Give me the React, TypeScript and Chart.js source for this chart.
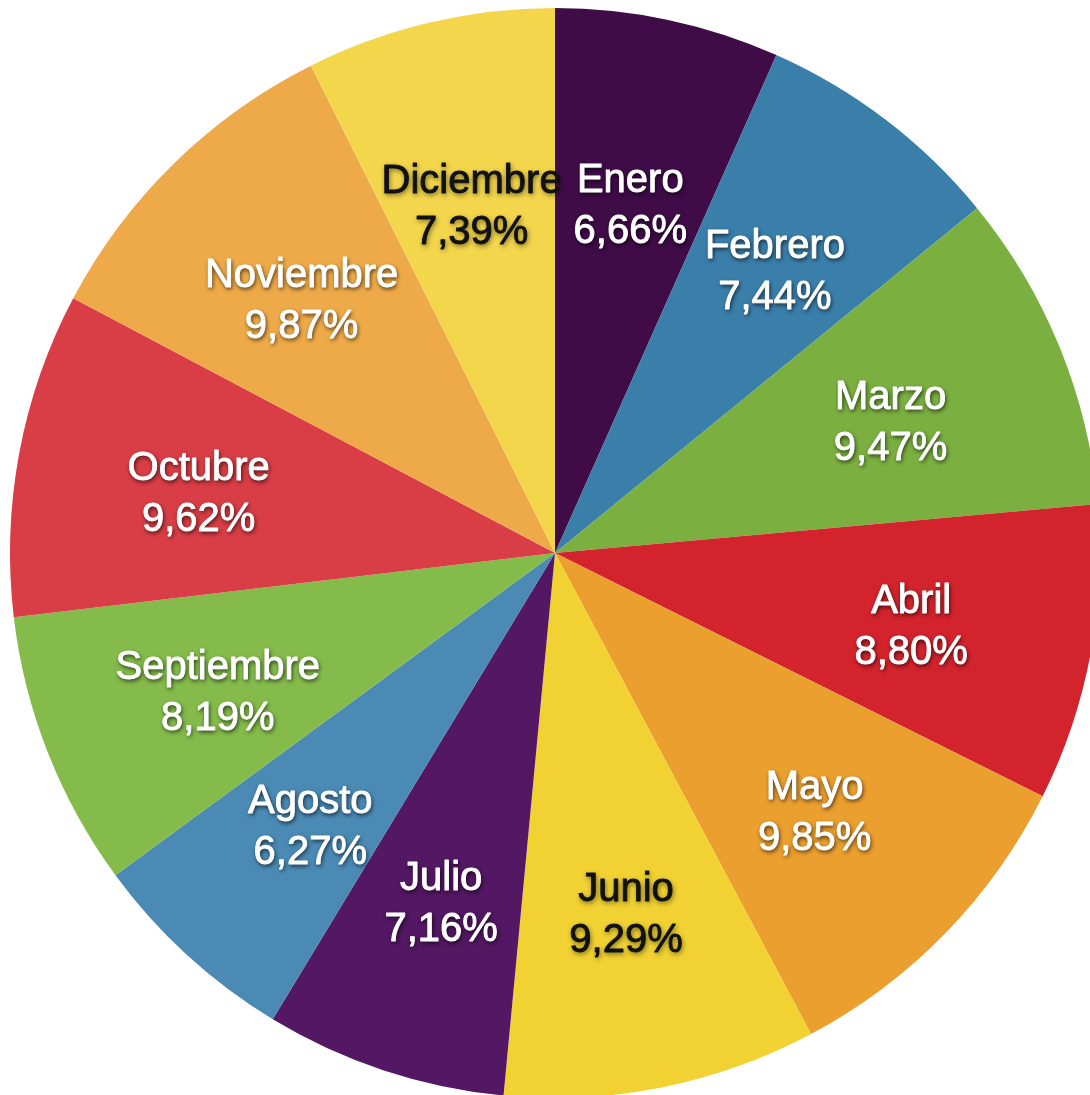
import React, { useEffect, useRef } from "react";
import { Chart, registerables } from "chart.js";

Chart.register(...registerables);

const months = [
  "Enero", "Febrero", "Marzo", "Abril", "Mayo", "Junio",
  "Julio", "Agosto", "Septiembre", "Octubre", "Noviembre", "Diciembre",
];
const shares = [6.66, 7.44, 9.47, 8.8, 9.85, 9.29, 7.16, 6.27, 8.19, 9.62, 9.87, 7.39];
const shareLabels = ["6,66%", "7,44%", "9,47%", "8,80%", "9,85%", "9,29%", "7,16%", "6,27%", "8,19%", "9,62%", "9,87%", "7,39%"];
const sliceColors = [
  "#3f0c48", "#3a7eaa", "#7bb040", "#d3232c", "#eb9f2f", "#f1d232",
  "#531763", "#4a8ab5", "#84bb4b", "#d93d45", "#eeaa48", "#f3d64b",
];
const textColors = [
  "#ffffff", "#ffffff", "#ffffff", "#ffffff", "#ffffff", "#111111",
  "#ffffff", "#ffffff", "#ffffff", "#ffffff", "#ffffff", "#111111",
];

const labelPlugin = {
  id: "sliceLabels",
  afterDatasetsDraw(chart: any) {
    const ctx = chart.ctx;
    const meta = chart.getDatasetMeta(0);
    ctx.save();
    ctx.font = "40px 'Liberation Sans', Arial, sans-serif";
    ctx.textAlign = "center";
    ctx.textBaseline = "middle";
    ctx.lineJoin = "round";
    meta.data.forEach((arc: any, i: number) => {
      const p = arc.getProps(["x", "y", "startAngle", "endAngle", "outerRadius"], true);
      const mid = (p.startAngle + p.endAngle) / 2;
      const r = p.outerRadius * 0.665;
      const cx = p.x + Math.cos(mid) * r;
      const cy = p.y + Math.sin(mid) * r;
      const dark = textColors[i] !== "#ffffff";
      const lines: [string, number][] = [
        [months[i], cy - 18],
        [shareLabels[i], cy + 33],
      ];
      lines.forEach(([t, ty]) => {
        ctx.shadowColor = dark ? "rgba(0,0,0,0.6)" : "rgba(0,0,0,0.8)";
        ctx.shadowBlur = dark ? 5 : 4;
        ctx.shadowOffsetX = 1;
        ctx.shadowOffsetY = 2;
        ctx.fillStyle = textColors[i];
        ctx.fillText(t, cx, ty);
        ctx.shadowColor = "transparent";
        ctx.strokeStyle = textColors[i];
        ctx.lineWidth = 0.9;
        ctx.strokeText(t, cx, ty);
      });
    });
    ctx.restore();
  },
};

export default function App() {
  const ref = useRef<HTMLCanvasElement>(null);
  useEffect(() => {
    if (!ref.current) return;
    const chart = new Chart(ref.current, {
      type: "pie",
      data: {
        labels: months,
        datasets: [
          {
            data: shares,
            backgroundColor: sliceColors,
            borderWidth: 0,
          },
        ],
      },
      options: {
        responsive: false,
        animation: false,
        layout: { padding: 8 },
        plugins: {
          legend: { display: false },
          tooltip: { enabled: false },
        },
      },
      plugins: [labelPlugin],
    });
    return () => chart.destroy();
  }, []);
  return (
    <div
      style={{
        position: "fixed",
        left: 0,
        top: 0,
        width: 1090,
        height: 1095,
        overflow: "hidden",
        background: "#ffffff",
      }}
    >
      <canvas ref={ref} width={1110} height={1106} style={{ width: 1110, height: 1106, display: "block" }} />
    </div>
  );
}
